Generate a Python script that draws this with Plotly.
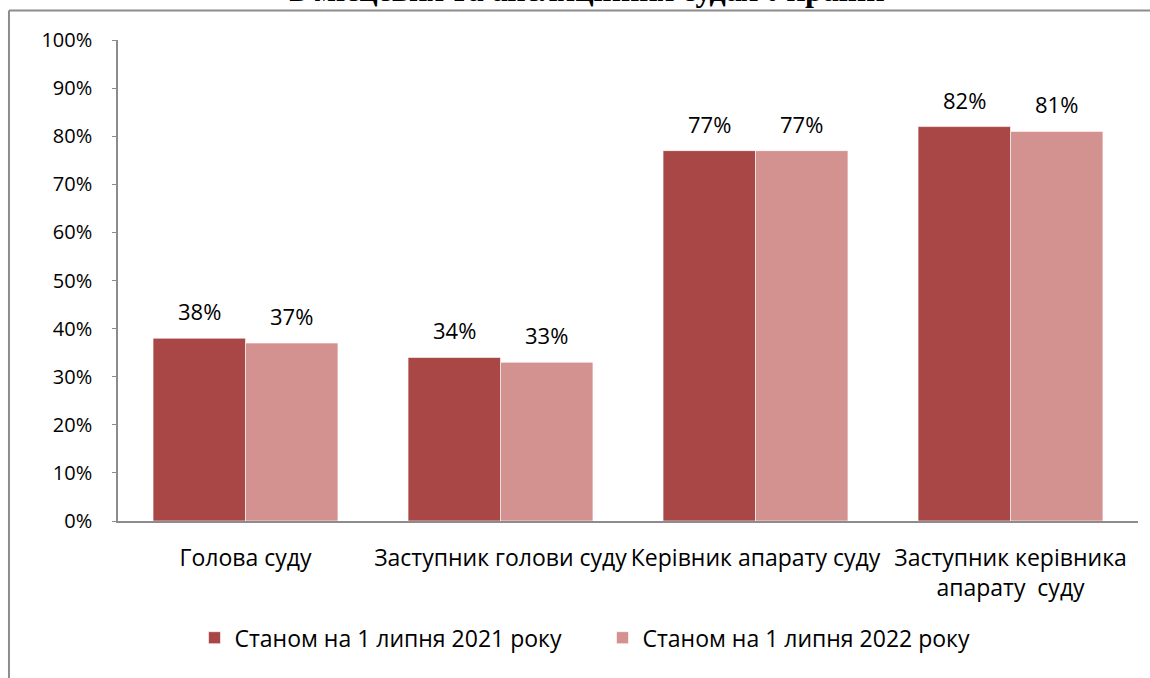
import plotly.graph_objects as go

# Data
categories = ["Голова суду", "Заступник голови суду", "Керівник апарату суду",
              "Заступник керівника<br>апарату  суду"]
series_names = ["Станом на 1 липня 2021 року", "Станом на 1 липня 2022 року"]
values_2021 = [38, 34, 77, 82]
values_2022 = [37, 33, 77, 81]
y_ticks = [0, 10, 20, 30, 40, 50, 60, 70, 80, 90, 100]

colors = ["#A84745", "#D39290"]
font_family = "Open Sans, sans-serif"

fig = go.Figure()
for name, vals, col in zip(series_names, [values_2021, values_2022], colors):
    fig.add_trace(go.Bar(
        x=categories,
        y=vals,
        name=name,
        marker=dict(color=col, line=dict(color="white", width=0.6)),
    ))

# value labels above each bar (left bar = 2021, right bar = 2022)
bar_half = 46
for vals, shift in [(values_2021, -bar_half), (values_2022, bar_half)]:
    for cat, v in zip(categories, vals):
        fig.add_annotation(
            x=cat, y=v, text=f"{v}%", showarrow=False,
            xshift=shift, yshift=27, yanchor="middle",
            font=dict(size=22, color="black", family=font_family),
        )

fig.update_layout(
    width=1150,
    height=678,
    barmode="group",
    bargap=0.275,
    bargroupgap=0,
    plot_bgcolor="white",
    paper_bgcolor="white",
    font=dict(family=font_family, size=20, color="black"),
    margin=dict(l=118, r=12, t=40, b=157, autoexpand=False),
    legend=dict(
        orientation="h",
        x=0.075, xanchor="left",
        y=-0.198, yanchor="top",
        font=dict(size=23),
        traceorder="normal",
        itemwidth=30,
        entrywidth=363,
    ),
)

fig.update_yaxes(
    range=[0, 100],
    tickvals=y_ticks,
    ticktext=[f"{t}%" for t in y_ticks],
    showgrid=False,
    showline=True,
    linecolor="#8c8c8c",
    linewidth=1.5,
    ticks="outside",
    ticklen=4,
    tickcolor="#8c8c8c",
    zeroline=False,
    ticklabelstandoff=16,
    tickfont=dict(size=20),
    automargin=False,
)
fig.update_xaxes(
    showgrid=False,
    showline=True,
    linecolor="#8c8c8c",
    linewidth=2,
    ticks="",
    tickangle=0,
    tickfont=dict(size=23),
    ticklabelstandoff=15,
    automargin=False,
)

# Outer chart frame (top and left borders)
fig.add_shape(type="line", xref="paper", yref="paper", x0=-0.1069, x1=1.02,
              y0=1.0613, y1=1.0613, line=dict(color="#8c8c8c", width=2))
fig.add_shape(type="line", xref="paper", yref="paper", x0=-0.1069, x1=-0.1069,
              y0=1.0613, y1=-0.4, line=dict(color="#8c8c8c", width=2))

# Title, mostly cut off at top of the image
fig.add_annotation(
    text="<b>в місцевих та апеляційних судах України</b>",
    xref="paper", yref="paper", x=0.46, y=1, xanchor="center", yanchor="bottom",
    yshift=30, showarrow=False,
    font=dict(family="Liberation Serif, serif", size=32, color="black"),
)

# drop the default page margin so the figure sits at the window's corner
fig.write_html("out.html", config={"displayModeBar": False},
               post_script="document.body.style.margin='0px';")
